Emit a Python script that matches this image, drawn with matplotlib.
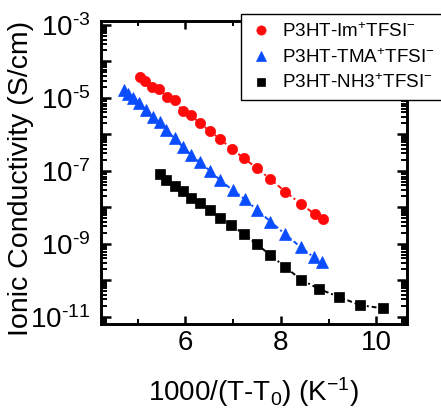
import numpy as np
import matplotlib
matplotlib.use("Agg")
import matplotlib.pyplot as plt
from matplotlib.ticker import LogLocator, FuncFormatter, MultipleLocator, NullFormatter

plt.rcParams['font.family'] = ['Liberation Sans', 'DejaVu Sans']
plt.rcParams['mathtext.fontset'] = 'custom'
plt.rcParams['mathtext.rm'] = 'Liberation Sans'
plt.rcParams['mathtext.it'] = 'Liberation Sans'
plt.rcParams['mathtext.default'] = 'regular'

# 1000/(T-T0) values and log10 conductivity for each electrolyte
x_im = [5.04, 5.16, 5.30, 5.45, 5.62, 5.77, 5.94, 6.11, 6.31, 6.51, 6.73, 6.97,
        7.22, 7.49, 7.77, 8.09, 8.41, 8.71, 8.88]
logs_im = [-4.42, -4.54, -4.69, -4.76, -4.97, -5.07, -5.36, -5.47, -5.70, -5.91,
           -6.13, -6.40, -6.65, -6.92, -7.22, -7.57, -7.90, -8.19, -8.32]

x_tma = [4.71, 4.80, 4.90, 5.03, 5.18, 5.32, 5.46, 5.60, 5.77, 5.94, 6.12, 6.31,
         6.52, 6.73, 6.99, 7.24, 7.50, 7.78, 8.09, 8.42, 8.69, 8.85]
logs_tma = [-4.79, -4.88, -4.99, -5.15, -5.33, -5.51, -5.67, -5.88, -6.11, -6.34,
            -6.56, -6.76, -7.01, -7.26, -7.53, -7.78, -8.07, -8.39, -8.74, -9.10,
            -9.37, -9.51]

x_nh3 = [5.46, 5.60, 5.77, 5.94, 6.12, 6.31, 6.51, 6.73, 6.96, 7.22, 7.49, 7.78,
         8.09, 8.43, 8.80, 9.22, 9.65, 10.13]
logs_nh3 = [-7.08, -7.24, -7.41, -7.56, -7.74, -7.89, -8.07, -8.28, -8.48, -8.74,
            -9.01, -9.31, -9.64, -9.99, -10.24, -10.46, -10.68, -10.77]

labels = [r'P3HT-Im$^{+}$TFSI$^{-}$', r'P3HT-TMA$^{+}$TFSI$^{-}$',
          r'P3HT-NH3$^{+}$TFSI$^{-}$']
colors = ['#ff0a0a', '#0a4dff', '#000000']
markers = ['o', '^', 's']
msizes = [7.4, 8.2, 6.8]

fig = plt.figure(figsize=(4.41, 4.08), dpi=100)
ax = fig.add_axes([101 / 441, 1 - 324 / 408, (407 - 101) / 441, (324 - 21) / 408])

series = [(x_im, logs_im), (x_tma, logs_tma), (x_nh3, logs_nh3)]
handles = []
for (xs, ls), c, m, ms, lab in zip(series, colors, markers, msizes, labels):
    ys = 10.0 ** np.array(ls)
    ax.plot(xs, ys, color=c, linestyle=(0, (2.5, 1.5, 1, 1.5)), linewidth=1.4)
    h, = ax.plot(xs, ys, linestyle='none', marker=m, markersize=ms,
                 markerfacecolor=c, markeredgecolor=c, markeredgewidth=0.5,
                 label=lab)
    handles.append(h)

ax.set_yscale('log')
ax.set_xlim(4.23, 10.64)
ax.set_ylim(10 ** -11.2, 10 ** -2.89)

ax.xaxis.set_major_locator(MultipleLocator(2))
ax.xaxis.set_minor_locator(MultipleLocator(1))
ax.yaxis.set_major_locator(LogLocator(base=10, numticks=30))
ax.yaxis.set_minor_locator(LogLocator(base=10, subs=np.arange(2, 10), numticks=30))
ax.yaxis.set_minor_formatter(NullFormatter())


def ylab(v, pos):
    e = int(round(np.log10(v)))
    if e % 2 == 0:
        return ''
    return r'$10^{\text{-}%d}$' % abs(e)


ax.yaxis.set_major_formatter(FuncFormatter(ylab))

for s in ax.spines.values():
    s.set_linewidth(2.1)
ax.tick_params(which='both', direction='in', top=True, right=True)
ax.tick_params(which='major', length=7.5, width=1.8, labelsize=20, pad=4)
ax.tick_params(axis='y', which='major', pad=7.5)
ax.tick_params(which='minor', length=4, width=1.4)
ax.tick_params(axis='x', which='major', length=6)
ax.tick_params(axis='x', which='minor', length=3.5)

ax.set_xlabel(r'1000/(T-T$_0$) (K$^{-1}$)', fontsize=20, labelpad=14)
ax.set_ylabel('Ionic Conductivity (S/cm)', fontsize=20.5, labelpad=-3)
ax.yaxis.label.set_y(0.48)

leg = fig.legend(handles=handles, loc='upper left',
                 bbox_to_anchor=(241 / 441, 1 - 14 / 408),
                 fontsize=13.6, frameon=True, fancybox=False, framealpha=1,
                 edgecolor='black', handlelength=1.25, handletextpad=0.5,
                 borderpad=0.42, labelspacing=0.38, borderaxespad=0,
                 markerscale=0.9)
leg.get_frame().set_linewidth(1.0)

fig.savefig('out.png', dpi=100)
